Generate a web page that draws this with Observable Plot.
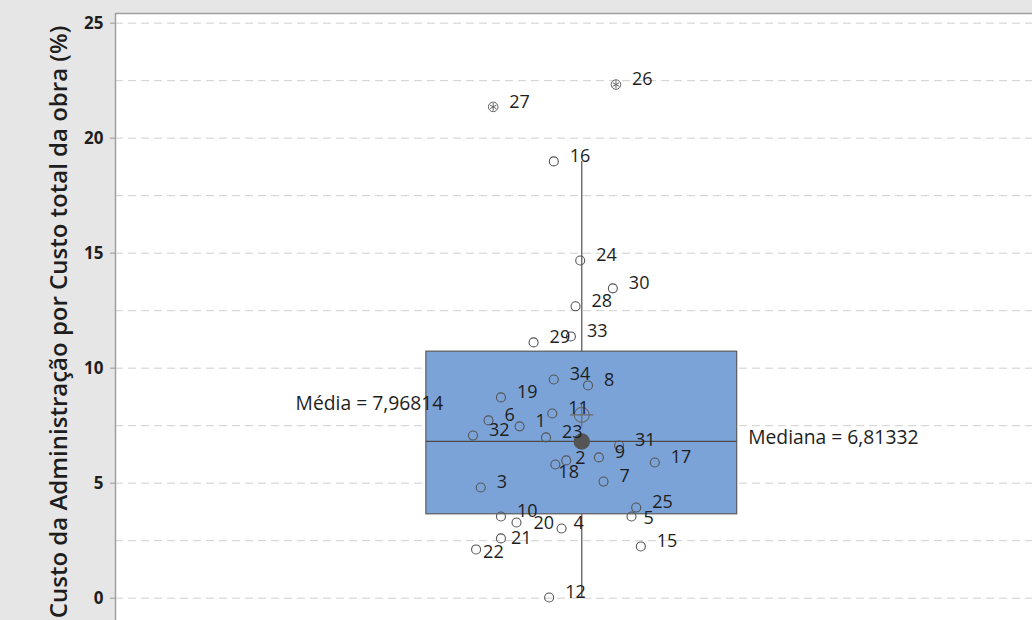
<!DOCTYPE html>
<html>
<head>
<meta charset="utf-8">
<script src="https://cdn.jsdelivr.net/npm/d3@7"></script>
<script src="https://cdn.jsdelivr.net/npm/@observablehq/plot@0.6"></script>
<style>
  html, body { margin: 0; padding: 0; background: #e6e6e6; }
  #chart svg { display: block; }
</style>
</head>
<body>
<div id="chart"></div>
<script>
// Obras (identificador), custo da administração (% do custo total) e deslocamento horizontal de cada ponto
const obras = [1, 2, 3, 4, 5, 6, 7, 8, 9, 10, 11, 12, 15, 16, 17, 18, 19, 20, 21, 22, 23, 24, 25, 26, 27, 28, 29, 30, 31, 32, 33, 34];
const custos = [7.47, 5.99, 4.81, 3.03, 3.55, 7.73, 5.07, 9.25, 6.12, 3.55, 8.03, 0.03, 2.25, 18.99, 5.90, 5.81, 8.73, 3.29, 2.60, 2.12, 6.99, 14.68, 3.94, 22.33, 21.36, 12.69, 11.12, 13.47, 6.64, 7.07, 11.38, 9.51];
const deslocamentos = [-0.40, -0.10, -0.65, -0.13, 0.32, -0.60, 0.14, 0.04, 0.11, -0.52, -0.19, -0.21, 0.38, -0.18, 0.47, -0.17, -0.52, -0.42, -0.52, -0.68, -0.23, -0.01, 0.35, 0.22, -0.57, -0.04, -0.31, 0.20, 0.24, -0.70, -0.07, -0.18];

// Estatísticas indicadas no gráfico
const media = 7.96814;
const mediana = 6.81332;

// Eixo vertical
const yTicks = [0, 5, 10, 15, 20, 25];
const yGrid = [0, 2.5, 5, 7.5, 10, 12.5, 15, 17.5, 20, 22.5, 25];
const yTitle = "Custo da Administração por Custo total da obra (%)";

const xDomain = [-3, 2.9];
const yDomain = [-0.97, 25.42];

const pts = obras.map((id, i) => ({id, v: custos[i], j: deslocamentos[i]}));

// Quartis pelo método (n + 1)p
const sorted = custos.slice().sort(d3.ascending);
function quartil(s, p) {
  const pos = p * (s.length + 1) - 1;
  const lo = Math.floor(pos), f = pos - lo;
  return s[lo] + f * (s[lo + 1] - s[lo]);
}
const q1 = quartil(sorted, 0.25);
const q3 = quartil(sorted, 0.75);
const iqr = q3 - q1;
const hiFence = q3 + 1.5 * iqr, loFence = q1 - 1.5 * iqr;
const dentro = custos.filter(v => v >= loFence && v <= hiFence);
const wLo = d3.min(dentro), wHi = d3.max(dentro);
const atipicos = pts.filter(d => d.v > hiFence || d.v < loFence);
const normais = pts.filter(d => d.v <= hiFence && d.v >= loFence);

// Pequenos ajustes de posição de rótulos que se sobrepõem
const ajuste = {22: [-9, 8], 21: [-6, 5], 18: [-13, 13], 2: [-7, 3], 5: [-4, 7], 4: [-4, 0], 20: [1, 6]};
const labDx = d => 16 + (ajuste[d.id] ? ajuste[d.id][0] : 0);
const labDy = d => -5 + (ajuste[d.id] ? ajuste[d.id][1] : 0);

const fmt = v => String(v).replace(".", ",");
const caixa = [{x1: -1, x2: 1, y1: q1, y2: q3}];
const linhaMediana = [{x1: -1, x2: 1, y: mediana}];
const centro = [{x: 0, media, mediana}];

const rotulos = pts.map(d => ({...d, dx: labDx(d), dy: labDy(d)}));

const textMarks = rotulos.map(d => Plot.text([d], {
  x: "j", y: "v", text: d => String(d.id), textAnchor: "start",
  dx: d.dx, dy: d.dy, fontSize: 18, fill: "#1e1e1e"
}));

const chart = Plot.plot({
  width: 1032,
  height: 620,
  marginLeft: 115,
  marginRight: 0,
  marginTop: 13,
  marginBottom: 0,
  style: {background: "#e6e6e6", fontFamily: "'Open Sans', sans-serif", overflow: "visible"},
  x: {domain: xDomain, axis: null},
  y: {domain: yDomain},
  marks: [
    Plot.frame({fill: "white", stroke: null}),
    Plot.ruleY(yGrid, {stroke: "#cfcfcf", strokeDasharray: "8,5"}),
    Plot.ruleX(centro, {x: "x", y1: wLo, y2: wHi, stroke: "#5e5e5e", strokeWidth: 1.3}),
    Plot.rect(caixa, {x1: "x1", x2: "x2", y1: "y1", y2: "y2", fill: "#7ba3d8", stroke: "#5a5a5a", strokeWidth: 1.2}),
    Plot.ruleY(linhaMediana, {x1: "x1", x2: "x2", y: "y", stroke: "#4a4a4a", strokeWidth: 1.2}),
    Plot.text(caixa, {x: "x1", y: () => media, text: () => "Média = " + fmt(media), textAnchor: "end", dx: 17, dy: -11, fontSize: 19.3, fill: "#1e1e1e"}),
    Plot.text(caixa, {x: "x2", y: () => mediana, text: () => "Mediana = " + fmt(mediana), textAnchor: "start", dx: 11, dy: -4, fontSize: 19.3, fill: "#1e1e1e"}),
    Plot.dot(normais, {x: "j", y: "v", r: 4.5, stroke: "#555", strokeWidth: 1.1, fill: "none"}),
    Plot.dot(atipicos, {x: "j", y: "v", r: 4.8, stroke: "#666", strokeWidth: 1, fill: "none"}),
    Plot.dot(atipicos, {x: "j", y: "v", r: 3.6, symbol: "asterisk", stroke: "#666", strokeWidth: 1}),
    Plot.dot(centro, {x: "x", y: "media", r: 7.5, stroke: "#6a6a6a", strokeWidth: 1.1, fill: "none"}),
    Plot.dot(centro, {x: "x", y: "media", r: 7.5, symbol: "plus", stroke: "#6a6a6a", strokeWidth: 1.1}),
    Plot.dot(centro, {x: "x", y: "mediana", r: 7.5, fill: "#555", stroke: "#555"}),
    ...textMarks,
    Plot.ruleX([xDomain[0]], {stroke: "#a0a0a0", strokeWidth: 1.5}),
    Plot.ruleY([yDomain[1]], {stroke: "#a0a0a0", strokeWidth: 1.5}),
    Plot.axisY(yTicks, {tickSize: 5, tickPadding: 7, fontSize: 17, fontWeight: "bold", color: "#1e1e1e", label: null}),
    Plot.text([yTitle], {text: d => d, frameAnchor: "left", textAnchor: "middle", rotate: -90, dx: -56, dy: 5, fontSize: 24, fontWeight: 600, fill: "#1e1e1e"})
  ]
});

// marcas de escala em cinza
chart.querySelectorAll('g[aria-label="y-axis tick"]').forEach(g => g.setAttribute("stroke", "#9a9a9a"));
document.getElementById("chart").appendChild(chart);
</script>
</body>
</html>
